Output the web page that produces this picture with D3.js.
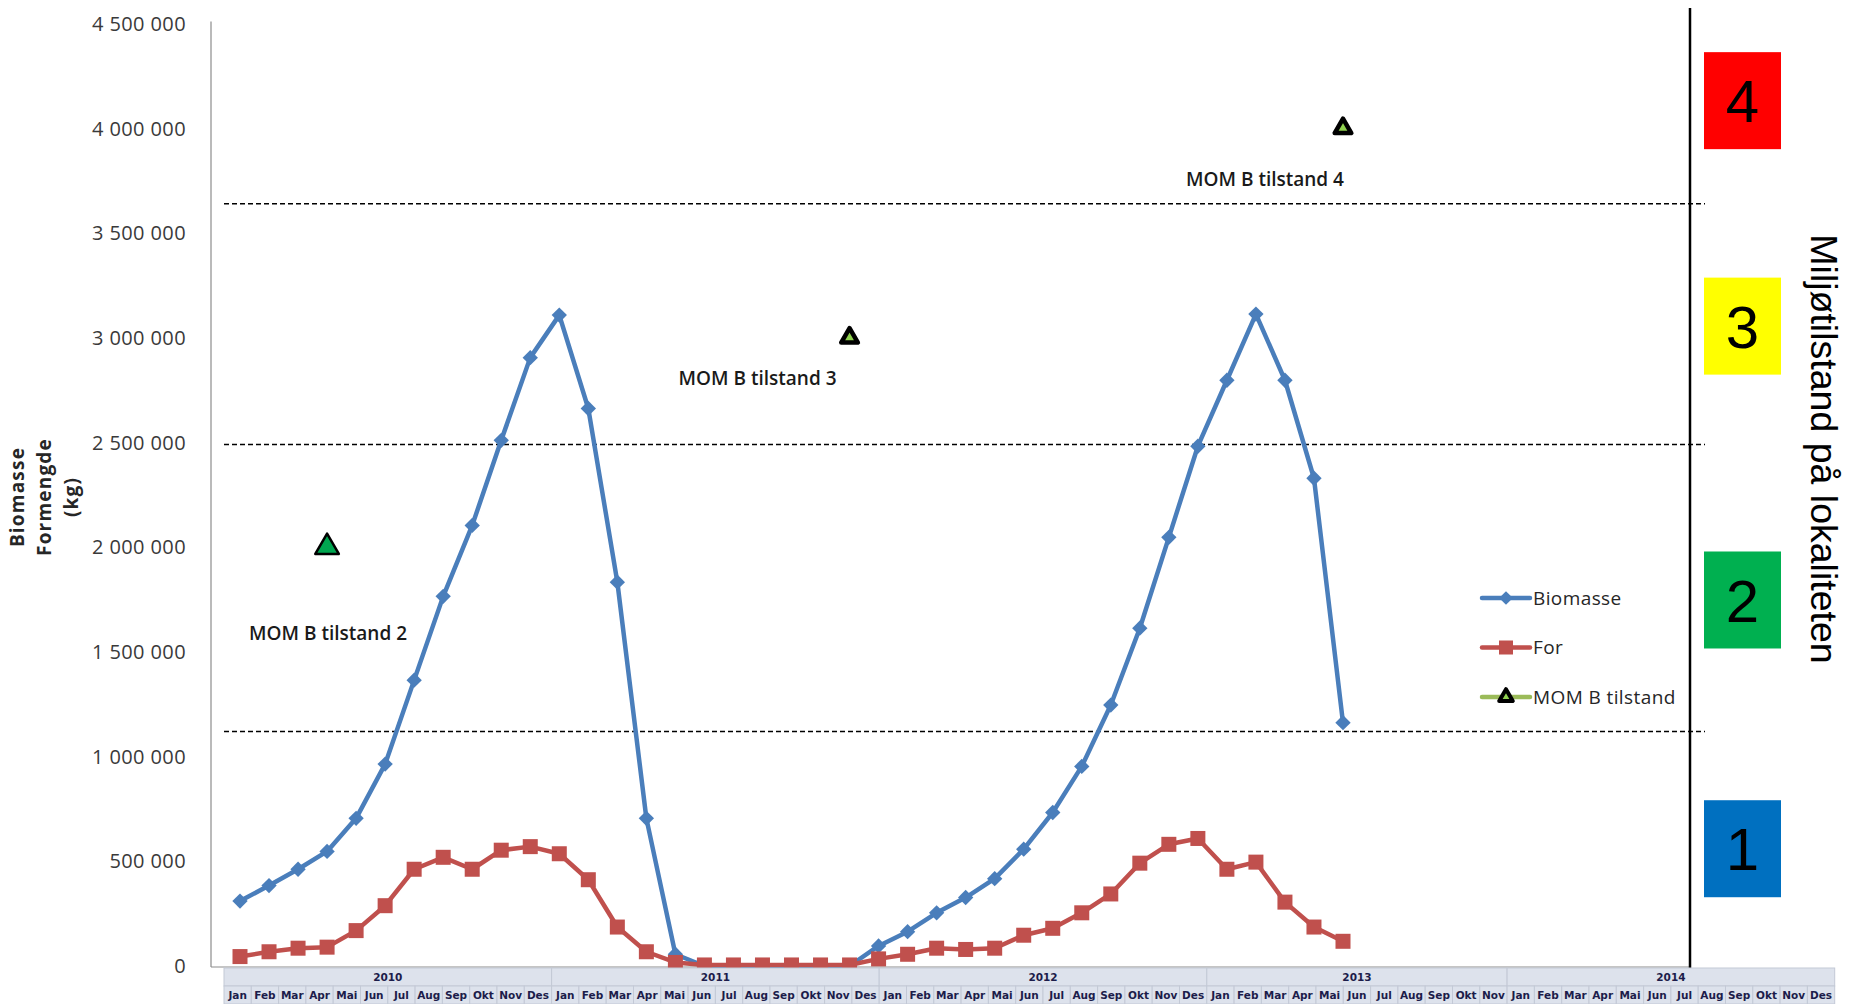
<!DOCTYPE html>
<html>
<head>
<meta charset="utf-8">
<script src="https://cdn.jsdelivr.net/npm/d3@7"></script>
<style>
  body { margin: 0; background: #fff; }
  svg { display: block; }
</style>
</head>
<body>
<div class="chart-container"></div>
<script>
// Values (kg), one point per month starting Jan 2010
const biomasse = [310000, 384000, 462000, 547000, 705000, 964000, 1365000, 1765000, 2104000, 2510000,
    2905000, 3108000, 2662000, 1833000, 705000, 56000, 0, 0, 0, 0, 0, 0,
    96000, 164000, 254000, 327000, 417000, 558000, 733000, 953000, 1246000, 1613000,
    2047000, 2482000, 2797000, 3113000, 2797000, 2329000, 1162000];
const fôr = [45000, 68000, 85000, 90000, 169000, 288000, 462000, 519000, 462000, 553000,
    570000, 536000, 412000, 186000, 68000, 17000, 5000, 5000, 5000, 5000, 5000, 5000,
    34000, 56000, 85000, 79000, 85000, 147000, 180000, 254000, 344000, 491000,
    581000, 609000, 462000, 496000, 305000, 186000, 118000];

const momMonth = [3, 21, 38];
const momValue = [2000000, 3000000, 4000000];
const momText = ["MOM B tilstand 2", "MOM B tilstand 3", "MOM B tilstand 4"];

const thresholds = [1120000, 2490000, 3640000];
const states = ["1", "2", "3", "4"];
const stateColors = ["#0070c0", "#00b050", "#ffff00", "#ff0000"];

const yTicks = [0, 500000, 1000000, 1500000, 2000000, 2500000, 3000000, 3500000, 4000000, 4500000];
const years = ["2010", "2011", "2012", "2013", "2014"];
const monthNames = ["Jan", "Feb", "Mar", "Apr", "Mai", "Jun", "Jul", "Aug", "Sep", "Okt", "Nov", "Des"];
const monthsInYear = [12, 12, 12, 11, 12];

function draw() {
    const width = 1852;
    const height = 1004;

    const blue = "#4a7ebb", red = "#c0504d", green = "#9bbb59";

    const svg = d3.select('.chart-container').append("svg")
        .attr("viewBox", [0, 0, width, height])
        .attr("width", width)
        .attr("height", height);

    const y = d3.scaleLinear().domain([0, 4500000]).range([966, 23.6]);
    const x = d3.scaleLinear().domain([0, 38]).range([240, 1343]);

    const fmt = v => d3.format(",d")(v).replace(/,/g, " ");

    // chart frame (left and bottom axis lines)
    svg.append("line").attr("x1", 211).attr("x2", 211).attr("y1", y(4500000) - 2).attr("y2", y(0) + 1)
        .attr("stroke", "#8c8c8c").attr("stroke-width", 1.2);
    svg.append("line").attr("x1", 211).attr("x2", 1690).attr("y1", y(0) + 1).attr("y2", y(0) + 1)
        .attr("stroke", "#8c8c8c").attr("stroke-width", 1.2);

    svg.append("g").selectAll("text")
        .data(yTicks)
        .join("text")
        .attr("x", 186)
        .attr("y", d => y(d))
        .attr("dy", "0.36em")
        .attr("text-anchor", "end")
        .attr("font-family", "'Open Sans', sans-serif")
        .attr("font-size", 20)
        .attr("letter-spacing", 0.4)
        .attr("fill", "#3a3a3a")
        .text(fmt);

    // y axis title
    const yt = svg.append("text")
        .attr("transform", "translate(0, 497) rotate(-90)")
        .attr("text-anchor", "middle")
        .attr("font-family", "'Open Sans', sans-serif")
        .attr("font-weight", "bold")
        .attr("font-size", 19)
        .attr("letter-spacing", 1.2)
        .attr("fill", "#262626");
    ["Biomasse", "Formengde", "(kg)"].forEach((t, i) => {
        yt.append("tspan").attr("x", 0).attr("y", 24 + i * 27).text(t);
    });

    // threshold lines
    svg.append("g").selectAll("line")
        .data(thresholds)
        .join("line")
        .attr("x1", 224).attr("x2", 1705)
        .attr("y1", d => y(d)).attr("y2", d => y(d))
        .attr("stroke", "#000")
        .attr("stroke-width", 1.6)
        .attr("stroke-dasharray", "5,3");

    // right side divider
    svg.append("line").attr("x1", 1690).attr("x2", 1690).attr("y1", 8).attr("y2", 968)
        .attr("stroke", "#000").attr("stroke-width", 2.5);

    // state boxes, centred in their zone (small nudges as in the original)
    const bounds = [0].concat(thresholds, [4500000]);
    const nudge = [0, 12, 2, -13];
    const boxes = svg.append("g").selectAll("g")
        .data(states)
        .join("g")
        .attr("transform", (d, i) => `translate(1742.5, ${y((bounds[i] + bounds[i + 1]) / 2) + nudge[i]})`);
    boxes.append("rect")
        .attr("x", -38.5).attr("y", -48.5).attr("width", 77).attr("height", 97)
        .attr("fill", (d, i) => stateColors[i]);
    boxes.append("text")
        .attr("text-anchor", "middle")
        .attr("dy", "0.36em")
        .attr("font-family", "'Liberation Sans', Arial, sans-serif")
        .attr("font-size", 60)
        .attr("fill", "#000")
        .text(d => d);

    svg.append("text")
        .attr("transform", "translate(1811, 449) rotate(90)")
        .attr("text-anchor", "middle")
        .attr("font-family", "'Liberation Sans', Arial, sans-serif")
        .attr("font-size", 37.5)
        .attr("fill", "#000")
        .text("Miljøtilstand på lokaliteten");

    // series
    const line = d3.line().x((d, i) => x(i)).y(d => y(d));

    svg.append("path").datum(biomasse)
        .attr("d", line).attr("fill", "none")
        .attr("stroke", blue).attr("stroke-width", 4.5).attr("stroke-linejoin", "round");
    svg.append("g").selectAll("path")
        .data(biomasse)
        .join("path")
        .attr("d", d3.symbol(d3.symbolDiamond2, 150))
        .attr("transform", (d, i) => `translate(${x(i)},${y(d)})`)
        .attr("fill", blue);

    svg.append("path").datum(fôr)
        .attr("d", line).attr("fill", "none")
        .attr("stroke", red).attr("stroke-width", 4.5).attr("stroke-linejoin", "round");
    svg.append("g").selectAll("rect")
        .data(fôr)
        .join("rect")
        .attr("x", (d, i) => x(i) - 7.5).attr("y", d => y(d) - 7.5)
        .attr("width", 15).attr("height", 15)
        .attr("fill", red);

    // MOM B tilstand triangles
    svg.append("g").selectAll("path")
        .data(momValue)
        .join("path")
        .attr("d", (d, i) => d3.symbol(d3.symbolTriangle, i === 0 ? 240 : 120)())
        .attr("transform", (d, i) => `translate(${x(momMonth[i])},${y(d)})`)
        .attr("fill", (d, i) => i === 0 ? "#00a650" : "#8fd14f")
        .attr("stroke", "#000")
        .attr("stroke-width", (d, i) => i === 0 ? 2.5 : 4.5)
        .attr("stroke-linejoin", "round");

    const labelOffset = [[1, 86], [-92, 40], [-78, 51]];
    svg.append("g").selectAll("text")
        .data(momText)
        .join("text")
        .attr("x", (d, i) => x(momMonth[i]) + labelOffset[i][0])
        .attr("y", (d, i) => y(momValue[i]) + labelOffset[i][1])
        .attr("dy", "0.36em")
        .attr("text-anchor", "middle")
        .attr("font-family", "'Open Sans', sans-serif")
        .attr("font-weight", 600)
        .attr("font-size", 19)
        .attr("letter-spacing", 0)
        .attr("fill", "#1a1a1a")
        .text(d => d);

    // legend
    const legend = svg.append("g").attr("transform", "translate(1482, 598)");
    const items = [["Biomasse", blue], ["For", red], ["MOM B tilstand", green]];
    const li = legend.selectAll("g").data(items).join("g")
        .attr("transform", (d, i) => `translate(0, ${i * 49.5})`);
    li.append("line").attr("x1", 0).attr("x2", 48).attr("y1", 0).attr("y2", 0)
        .attr("stroke", d => d[1]).attr("stroke-width", 4.5).attr("stroke-linecap", "round");
    li.filter((d, i) => i === 0).append("path")
        .attr("d", d3.symbol(d3.symbolDiamond2, 120)).attr("transform", "translate(24,0)").attr("fill", blue);
    li.filter((d, i) => i === 1).append("rect")
        .attr("x", 17).attr("y", -7).attr("width", 14).attr("height", 14).attr("fill", red);
    li.filter((d, i) => i === 2).append("path")
        .attr("d", d3.symbol(d3.symbolTriangle, 80)).attr("transform", "translate(24,0)")
        .attr("fill", "#8fd14f").attr("stroke", "#000").attr("stroke-width", 4).attr("stroke-linejoin", "round");
    li.append("text")
        .attr("x", 51).attr("dy", "0.36em")
        .attr("font-family", "'Open Sans', sans-serif")
        .attr("font-size", 19)
        .attr("letter-spacing", 0.4)
        .attr("fill", "#262626")
        .text(d => d[0]);

    // month / year table under the chart
    const cellW = 27.3;
    const table = svg.append("g").attr("font-family", "'DejaVu Sans', Verdana, sans-serif")
        .attr("font-weight", "bold").attr("font-size", 10.5).attr("fill", "#1c1c4a");
    let start = 0;
    years.forEach((yr, k) => {
        const n = monthsInYear[k];
        const x0 = 224 + start * cellW;
        table.append("rect").attr("x", x0).attr("y", 968).attr("width", n * cellW).attr("height", 18)
            .attr("fill", "#dde2ec").attr("stroke", "#c3c9d6");
        table.append("text").attr("x", x0 + n * cellW / 2).attr("y", 977).attr("dy", "0.36em")
            .attr("text-anchor", "middle").text(yr);
        monthNames.slice(0, n).forEach((m, j) => {
            const mx = x0 + j * cellW;
            table.append("rect").attr("x", mx).attr("y", 986).attr("width", cellW).attr("height", 18)
                .attr("fill", "#dde2ec").attr("stroke", "#c3c9d6");
            table.append("text").attr("x", mx + cellW / 2).attr("y", 995.5).attr("dy", "0.36em")
                .attr("text-anchor", "middle").text(m);
        });
        start += n;
    });
}

draw();
</script>
</body>
</html>
